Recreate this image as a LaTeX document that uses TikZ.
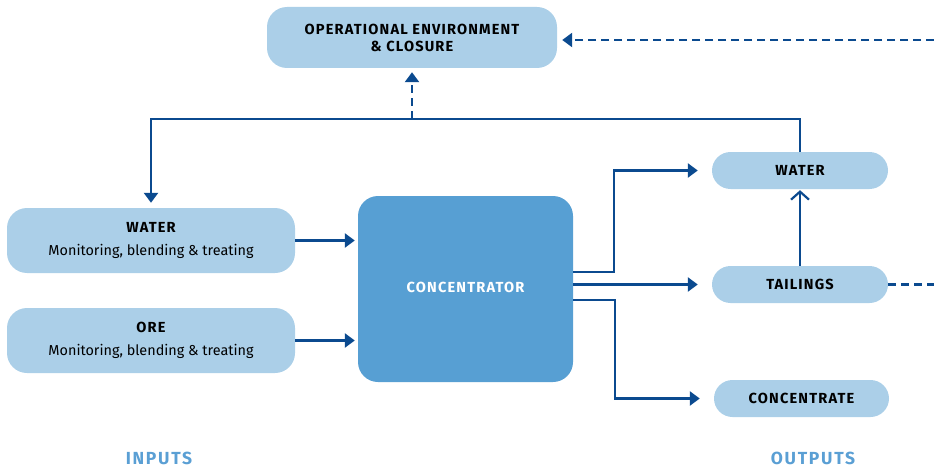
\documentclass[tikz,border=0pt]{standalone}
\usepackage{fontspec}
\setmainfont{Fira Sans}
\usetikzlibrary{arrows.meta,calc}
\definecolor{linec}{HTML}{0B4A8F}
\definecolor{boxc}{HTML}{ABCFE8}
\definecolor{concc}{HTML}{579FD3}
\definecolor{labc}{HTML}{5A9FD4}
\newcommand\capsb{\fontsize{14.6}{17}\selectfont\bfseries\addfontfeature{LetterSpace=8}}
\newcommand\subtx{\normalfont\fontsize{14.4}{17}\selectfont}
\tikzset{
  lbox/.style={fill=boxc,draw=none,rounded corners=20pt,inner sep=0pt,align=center,text=black},
  pill/.style={fill=boxc,draw=none,rounded corners=18.5pt,inner sep=0pt,minimum width=176pt,minimum height=37pt,font=\capsb},
  conn/.style={draw=linec,line width=2.4pt},
  arr/.style={conn,-{Triangle[length=10pt,width=14pt]}},
  openarr/.style={conn,-{Straight Barb[length=8pt,width=18pt,line width=2.2pt]}},
  dsh/.style={dash pattern=on 8pt off 5pt},
  sidelab/.style={text=labc,font=\fontsize{17.5}{20}\selectfont\bfseries\addfontfeature{LetterSpace=10}}
}
\begin{document}
\begin{tikzpicture}[x=1pt,y=-1pt]
\useasboundingbox (0,0) rectangle (934,468);
% nodes
\node[lbox,minimum width=290pt,minimum height=61pt,font=\capsb] (top) at (412,37.5) {OPERATIONAL ENVIRONMENT\\\& CLOSURE};
\node[lbox,minimum width=288pt,minimum height=65pt,font=\capsb] (win) at (151,240.5) {WATER\\[6pt]{\subtx Monitoring, blending \& treating}};
\node[lbox,minimum width=288pt,minimum height=65pt,font=\capsb] (ore) at (151,340.5) {ORE\\[6pt]{\subtx Monitoring, blending \& treating}};
\node[lbox,fill=concc,text=white,minimum width=215pt,minimum height=186pt,font=\capsb] (conc) at (465.5,289) {\raisebox{4pt}{CONCENTRATOR}};
\node[pill] (wout) at (800,170.5) {WATER};
\node[pill] (tail) at (800,284.5) {TAILINGS};
\node[pill,minimum width=175pt] (cnct) at (801.5,398.5) {CONCENTRATE};
\node[sidelab] (inl) at (159,458) {INPUTS};
\node[sidelab] (outl) at (813,458) {OUTPUTS};
\coordinate (loop) at (412,119);
\coordinate (redge) at (934,40);
\coordinate (tedge) at (934,284.5);
% connectors
\draw[arr,shorten >=3pt] (win.east) -- (conc.west |- win.east);
\draw[arr,shorten >=3pt] (ore.east) -- (conc.west |- ore.east);
\draw[arr,shorten >=14pt] (conc.east |- 0,272) -- (614,272) |- (wout.west);
\draw[arr,shorten >=14pt] (conc.east |- tail.west) -- (tail.west);
\draw[arr,shorten >=14pt] (conc.east |- 0,300) -- (615,300) |- (cnct.west);
\draw[openarr,shorten >=1pt] (tail.north) -- (wout.south);
\draw[arr,shorten >=5pt] (wout.north) -- (800,119) -| (win.north);
\draw[arr,dsh,shorten >=4pt] (loop) -- (top.south);
\draw[arr,dsh,shorten >=5pt] (redge) -- (top.east |- redge);
\draw[conn,dsh] (tail.east) -- (tedge);
\end{tikzpicture}
\end{document}
